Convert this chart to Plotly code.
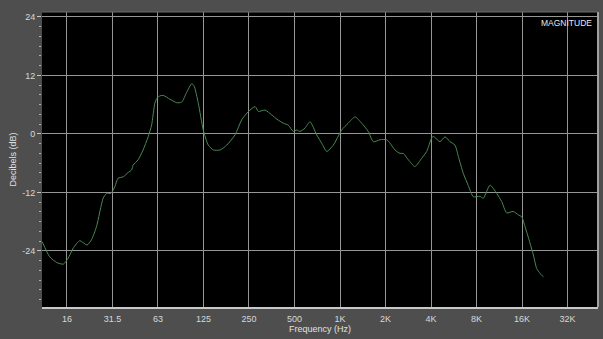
import plotly.graph_objects as go

# Frequency response (Hz, dB)
freq_hz = [10.7, 12.0, 13.4, 14.8, 15.9, 17.2, 19.0, 21.2, 22.7, 24.5, 27.1, 28.6, 30.5,
           32.4, 34.0, 36.8, 39.7, 41.8, 42.8, 46.2, 49.8, 53.8, 56.7, 59.6, 61.5, 64.4,
           67.7, 75.0, 83.1, 89.6, 96.7, 104.4, 108.1, 115.5, 124.6, 134.5, 145.2, 160.9,
           178.1, 202.1, 223.8, 247.8, 274.4, 288.4, 319.2, 353.4, 383.1, 421.3, 454.7,
           490.9, 517.3, 543.6, 586.8, 633.4, 701.2, 760, 816.8, 903.1, 1026, 1134, 1257,
           1392, 1539, 1661, 1839, 2037, 2142, 2312, 2494, 2623, 2830, 3134, 3472, 3746,
           4042, 4143, 4589, 4952, 5344, 5765, 6063, 6543, 7061, 7621, 8438, 8875, 9828,
           10884, 11745, 12675, 14015, 15125, 15925, 16750, 18076, 19006, 20013, 21054, 22132]
level_db = [-22.1, -25.2, -26.4, -26.7, -25.5, -23.4, -21.9, -22.8, -21.7, -19.0, -13.2, -12.2, -12.2,
            -10.8, -9.1, -8.8, -7.9, -7.4, -6.4, -5.3, -3.3, -0.6, 1.8, 6.3, 7.3, 7.8,
            7.9, 7.1, 6.4, 6.5, 8.5, 10.3, 9.9, 6.3, 0.8, -2.3, -3.3, -3.3,
            -2.3, -0.2, 2.9, 4.6, 5.6, 4.6, 4.9, 3.9, 3.0, 2.2, 1.8,
            0.5, 0.8, 0.5, 1.2, 2.5, -0.2, -2.0, -3.6, -2.3, 0.8, 2.2, 3.5,
            2.2, 0.5, -1.6, -1.2, -1.2, -1.9, -3.3, -4.0, -4.0, -5.3, -6.7, -5.0, -3.6,
            -0.8, -0.5, -1.6, -0.6, -1.6, -2.3, -4.6, -8.1, -10.6, -12.9, -12.8, -13.2, -10.5,
            -12.2, -13.9, -16.2, -15.9, -16.6, -17.0, -19.0, -22.4, -24.8, -27.6, -28.6, -29.3]

x_tick_vals = [15.625, 31.25, 62.5, 125, 250, 500, 1000, 2000, 4000, 8000, 16000, 32000]
x_tick_text = ["16", "31.5", "63", "125", "250", "500", "1K", "2K", "4K", "8K", "16K", "32K"]
y_tick_vals = [-24, -12, 0, 12, 24]
y_tick_text = ["-24", "-12", "0", "12", "24"]

fig = go.Figure()
fig.add_trace(go.Scatter(x=freq_hz, y=level_db, mode="lines",
                         line=dict(color="#4a8a52", width=1, shape="spline", smoothing=0.6),
                         hoverinfo="skip", showlegend=False))

font = "Liberation Sans, Arial, sans-serif"
fig.update_layout(
    width=603, height=339,
    margin=dict(l=42, r=5, t=12, b=32),
    paper_bgcolor="#4e4e4e",
    plot_bgcolor="#000000",
    font=dict(family=font, size=9, color="#d8d8d8"),
    xaxis=dict(type="log", range=[1.0285, 4.7069], tickvals=x_tick_vals, ticktext=x_tick_text,
               showgrid=True, gridcolor="#969696", gridwidth=1, zeroline=False,
               showline=True, linecolor="#c8c8c8", linewidth=2, mirror=False,
               ticks="", ticklabelstandoff=2,
               title=dict(text="Frequency (Hz)", font=dict(size=9, color="#e0e0e0"), standoff=3)),
    yaxis=dict(range=[-35.5, 25.0], tickvals=y_tick_vals, ticktext=y_tick_text,
               showgrid=True, gridcolor="#969696", gridwidth=1, zeroline=False,
               showline=False, ticks="outside", ticklen=4, tickcolor="#c8c8c8",
               minor=dict(dtick=2, tick0=0, ticks="outside", ticklen=2, tickcolor="#b0b0b0",
                          showgrid=False),
               title=dict(text="Decibels (dB)", font=dict(size=9, color="#e0e0e0"), standoff=4)),
    shapes=[
        dict(type="line", xref="paper", yref="paper", x0=1, x1=1, y0=0, y1=1,
             line=dict(color="#a0a0a0", width=2)),
        dict(type="line", xref="paper", yref="paper", x0=0, x1=1, y0=1, y1=1,
             line=dict(color="#6a6a6a", width=1)),
    ],
    annotations=[dict(text="MAGNITUDE", xref="paper", yref="paper", x=0.993, y=0.985,
                      xanchor="right", yanchor="top", showarrow=False,
                      font=dict(size=8.5, color="#e8e8e8", family=font))],
)

fig.write_html("out.html", config={"displayModeBar": False})
